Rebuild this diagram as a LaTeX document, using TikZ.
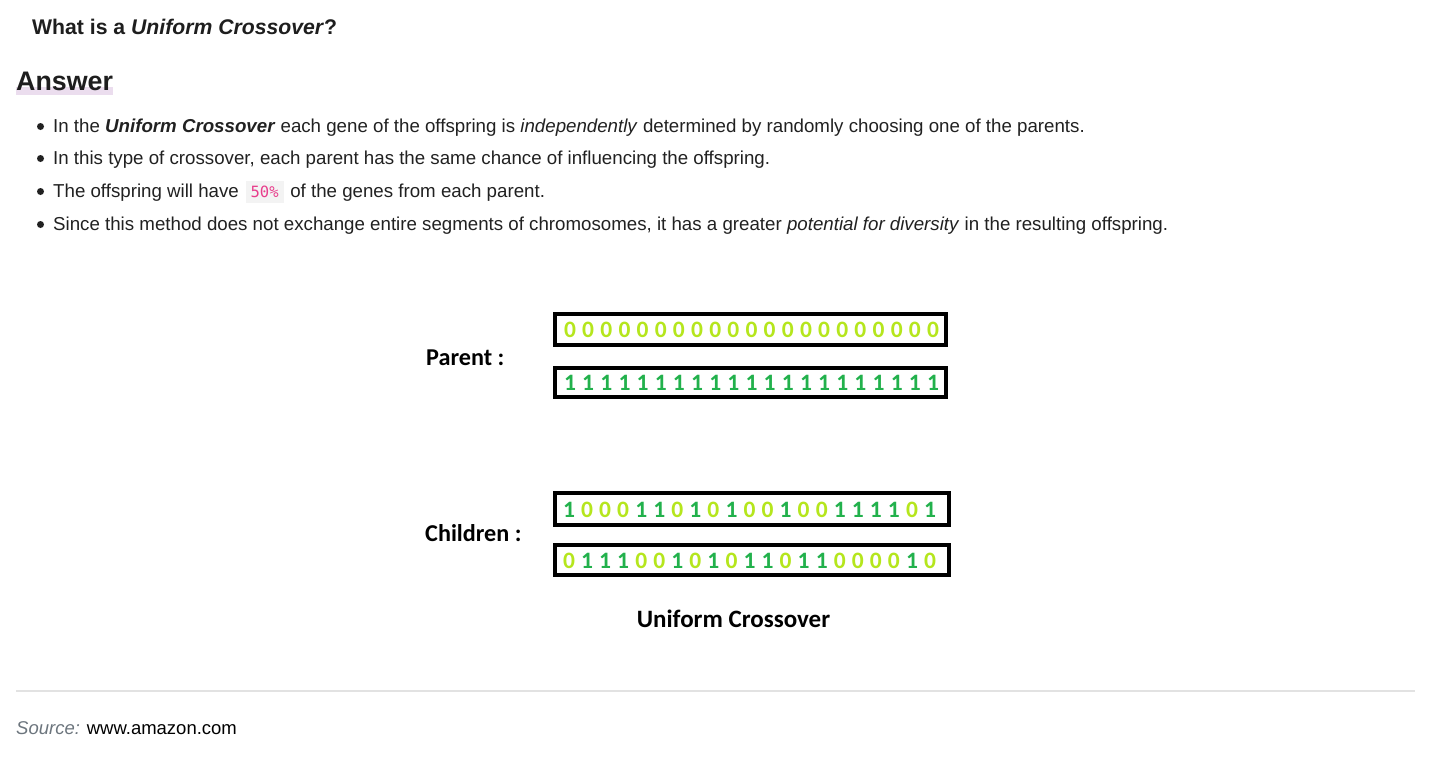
\documentclass[tikz,border=0pt]{standalone}
\usepackage{fontspec}
\setmainfont{Liberation Sans}
\newfontfamily\calibri{Carlito}
\newfontfamily\codefont{DejaVu Sans Mono}
\definecolor{titlecol}{HTML}{1E1E1E}
\definecolor{bodycol}{HTML}{212121}
\definecolor{hilite}{HTML}{EBDDEE}
\definecolor{rulecol}{HTML}{E2E2E2}
\definecolor{srccol}{HTML}{6C757D}
\definecolor{codebg}{HTML}{F3F3F3}
\definecolor{codepink}{HTML}{E83E8C}
\definecolor{limecol}{HTML}{B5E61D}
\definecolor{greencol}{HTML}{22B14C}
\tikzset{
  bodytext/.style={anchor=base west, inner sep=0pt, text=bodycol, font=\fontsize{18.7}{21}\selectfont},
  bulletdot/.style={circle, fill=bodycol, inner sep=0pt, minimum size=7pt},
  chromo/.style={draw=black, line width=4pt, fill=white, inner sep=0pt},
  digit/.style={anchor=base, inner sep=0pt, font=\calibri\bfseries\fontsize{23.5}{26}\selectfont},
  dig0/.style={text=limecol},
  dig1/.style={text=greencol},
  dlabel/.style={anchor=base west, inner sep=0pt, font=\calibri\bfseries\fontsize{24.2}{27}\selectfont}
}
\begin{document}
\begin{tikzpicture}[x=1pt,y=-1pt]
\useasboundingbox (0,0) rectangle (1450,760);
\fill[white] (0,0) rectangle (1450,760);
% title
\node[anchor=base west, inner sep=0pt, text=titlecol, font=\bfseries\fontsize{21.2}{24}\selectfont] (title) at (32,35) {What is a \textit{Uniform Crossover}?};
% Answer
\fill[hilite] (16,87) rectangle (113,95);
\node[anchor=base west, inner sep=0pt, text=titlecol, font=\bfseries\fontsize{26.8}{30}\selectfont] (answer) at (16,90) {Answer};
% bullets
\node[bulletdot] (b1) at (40.5,126.5) {};
\node[bulletdot] (b2) at (40.5,158.5) {};
\node[bulletdot] (b3) at (40.5,191.5) {};
\node[bulletdot] (b4) at (40.5,224.5) {};
\node[bodytext] (l1) at (53,132.5) {In the \textbf{\textit{Uniform Crossover}} each gene of the offspring is \textit{independently} determined by randomly choosing one of the parents.};
\node[bodytext] (l2) at (53,164.5) {In this type of crossover, each parent has the same chance of influencing the offspring.};
\node[bodytext] (l3) at (53,197.5) {The offspring will have\hspace{1.5pt} {\setlength\fboxsep{5pt}\colorbox{codebg}{\color{codepink}\codefont\fontsize{15.5}{17}\selectfont 50\%}}\hspace{1.5pt} of the genes from each parent.};
\node[bodytext] (l4) at (53,230.5) {Since this method does not exchange entire segments of chromosomes, it has a greater \textit{potential for diversity} in the resulting offspring.};
% diagram
\node[dlabel] (parent) at (426,365) {Parent :};
\node[dlabel] (children) at (425,541) {Children :};
\node[chromo, minimum width=391pt, minimum height=31pt] (p1) at (750.5,329.5) {};
\node[chromo, minimum width=391pt, minimum height=29pt] (p2) at (750.5,382.5) {};
\node[chromo, minimum width=394pt, minimum height=32pt] (c1) at (752,509) {};
\node[chromo, minimum width=394pt, minimum height=30pt] (c2) at (752,560) {};
\foreach \d [count=\i from 0] in {0,0,0,0,0,0,0,0,0,0,0,0,0,0,0,0,0,0,0,0,0}
  \node[digit, dig\d] (p1d\i) at (570+18.15*\i,337) {\d};
\foreach \d [count=\i from 0] in {1,1,1,1,1,1,1,1,1,1,1,1,1,1,1,1,1,1,1,1,1}
  \node[digit, dig\d] (p2d\i) at (570+18.15*\i,390) {\d};
\foreach \d [count=\i from 0] in {1,0,0,0,1,1,0,1,0,1,0,0,1,0,0,1,1,1,1,0,1}
  \node[digit, dig\d] (c1d\i) at (569+18.05*\i,517) {\d};
\foreach \d [count=\i from 0] in {0,1,1,1,0,0,1,0,1,0,1,1,0,1,1,0,0,0,0,1,0}
  \node[digit, dig\d] (c2d\i) at (569+18.05*\i,568) {\d};
\node[anchor=base, inner sep=0pt, font=\calibri\bfseries\fontsize{25}{28}\selectfont] (caption) at (733.5,627) {Uniform Crossover};
% rule and source
\draw[rulecol, line width=1.5pt] (16,691) -- (1415,691);
\node[anchor=base west, inner sep=0pt, font=\fontsize{18.5}{21}\selectfont] (source) at (16,734) {\textcolor{srccol}{\textit{Source:}} \textcolor{black}{www.amazon.com}};
\end{tikzpicture}
\end{document}
